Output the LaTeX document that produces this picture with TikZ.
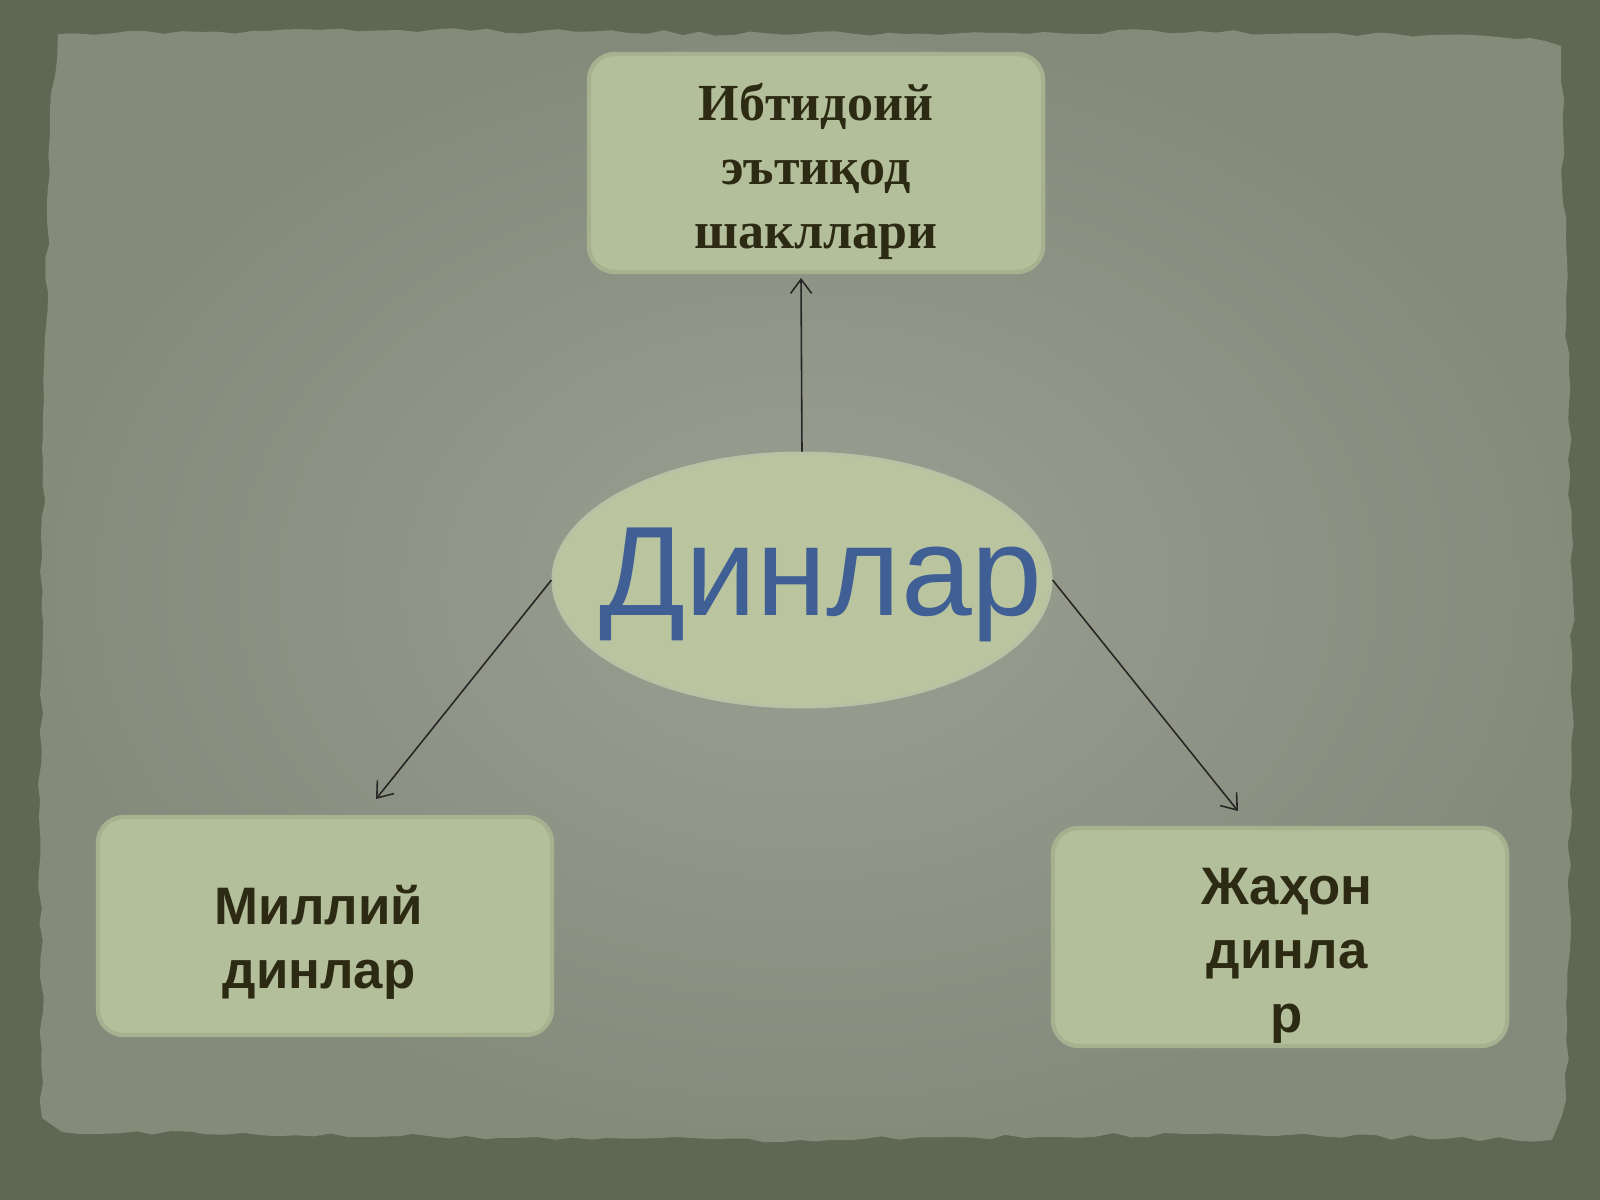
\documentclass[tikz,border=0pt]{standalone}
\usepackage{fontspec}
\setmainfont{Liberation Serif}
\setsansfont{Liberation Sans}
\usetikzlibrary{shapes.geometric,arrows.meta,decorations.pathmorphing}
\definecolor{framecol}{HTML}{5E6853}
\definecolor{paperedge}{HTML}{858B7B}
\definecolor{papermid}{HTML}{9A9F93}
\definecolor{boxfill}{HTML}{B3BF9A}
\definecolor{boxedge}{HTML}{A6B28F}
\definecolor{ellfill}{HTML}{BAC59F}
\definecolor{titleblue}{HTML}{3F5F95}
\definecolor{darktext}{HTML}{2D2A14}
\begin{document}
\begin{tikzpicture}[x=0.01cm,y=-0.01cm,
  boxstyle/.style={rectangle, rounded corners=0.26cm, fill=boxfill, draw=boxedge, line width=1.2pt,
    minimum width=4.54cm, minimum height=2.18cm, inner sep=0pt},
  serifbold/.style={font=\rmfamily\bfseries\fontsize{14.8pt}{18.2pt}\selectfont, text=darktext, align=center, inner sep=0pt},
  sansbold/.style={font=\sffamily\bfseries\fontsize{15pt}{18.2pt}\selectfont, text=darktext, align=center, inner sep=0pt},
  arr/.style={draw=black!85, line width=0.45pt, -{Straight Barb[length=4pt,width=6pt]}}]
\useasboundingbox (0,0) rectangle (1600,1200);
% background frame
\fill[framecol] (0,0) rectangle (1600,1200);
\pgfmathsetseed{7}
\shade[inner color=papermid, outer color=paperedge,
  decorate, decoration={random steps, segment length=5pt, amplitude=0.7pt}]
  (58,34) -- (400,30) -- (800,34) -- (1200,31) -- (1530,38) -- (1561,46) -- (1566,300)
  -- (1573,600) -- (1569,900) -- (1566,1100) -- (1552,1140) -- (1200,1134) -- (800,1140)
  -- (400,1136) -- (62,1132) -- (42,1118) -- (40,800) -- (44,400) -- (50,110) -- cycle;
% boxes
\node[boxstyle] (top) at (816,163) {};
\node[boxstyle] (left) at (325,926) {};
\node[boxstyle] (right) at (1280,937) {};
\node[ellipse, fill=ellfill, draw=boxedge!80, line width=0.8pt, minimum width=4.98cm, minimum height=2.54cm, inner sep=0pt] (ell) at (802,580) {};
% texts
\node[serifbold] (toptext) at (816,171) {Ибтидоий\\эътиқод\\шакллари};
\node[sansbold] (lefttext) at (319,942) {Миллий\\динлар};
\node[sansbold] (righttext) at (1287,956) {Жаҳон\\динла\\р};
\node[font=\sffamily\fontsize{36.2pt}{40pt}\selectfont, text=titleblue, inner sep=0pt] (elltext) at (821,585) {Динлар};
% connectors
\coordinate (tA) at (801,278);
\coordinate (tB) at (376,799);
\coordinate (tC) at (1238,811);
\draw[arr] (ell.north) -- (tA);
\draw[arr] (ell.west) -- (tB);
\draw[arr] (ell.east) -- (tC);
\end{tikzpicture}
\end{document}
